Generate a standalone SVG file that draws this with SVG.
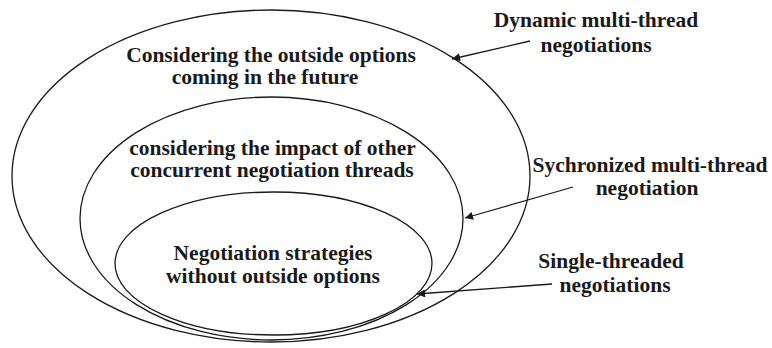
<svg xmlns="http://www.w3.org/2000/svg" width="772" height="348" viewBox="0 0 772 348">
<defs>
<style>
.ell{fill:none;stroke:#1a1a1a;stroke-width:1.3}
.t{font-family:"Liberation Serif","Times New Roman",serif;font-weight:bold;font-size:21.5px;fill:#1a1a1a;text-anchor:middle}
.con{fill:none;stroke:#1a1a1a;stroke-width:1.3}
</style>
<marker id="ah" viewBox="0 0 10 10" refX="10" refY="5" markerWidth="10" markerHeight="8" markerUnits="userSpaceOnUse" orient="auto">
<path d="M0,0 L10,5 L0,10 z" fill="#1a1a1a"/>
</marker>
</defs>
<rect width="772" height="348" fill="#fff"/>
<g id="outer">
<ellipse class="ell" cx="271" cy="176" rx="259" ry="166"/>
<text class="t" x="271" y="62">Considering the outside options</text>
<text class="t" x="265" y="84">coming in the future</text>
</g>
<g id="middle">
<ellipse class="ell" cx="271.5" cy="218.5" rx="191.5" ry="121.5"/>
<text class="t" x="272.5" y="155">considering the impact of other</text>
<text class="t" x="272" y="177">concurrent negotiation threads</text>
</g>
<g id="inner">
<ellipse class="ell" cx="273.5" cy="263.5" rx="158.5" ry="71.5"/>
<text class="t" x="273" y="260">Negotiation strategies</text>
<text class="t" x="273" y="283">without outside options</text>
</g>
<g id="label-dynamic">
<text class="t" x="596" y="27">Dynamic multi-thread</text>
<text class="t" x="596" y="52">negotiations</text>
</g>
<g id="label-sync">
<text class="t" x="650" y="172">Sychronized multi-thread</text>
<text class="t" x="647" y="195">negotiation</text>
</g>
<g id="label-single">
<text class="t" x="611" y="268">Single-threaded</text>
<text class="t" x="615" y="292">negotiations</text>
</g>
<g id="connectors">
<line class="con" x1="530" y1="41" x2="452" y2="59" marker-end="url(#ah)"/>
<line class="con" x1="573" y1="187" x2="465" y2="218" marker-end="url(#ah)"/>
<line class="con" x1="552" y1="284" x2="417" y2="294" marker-end="url(#ah)"/>
</g>
</svg>
